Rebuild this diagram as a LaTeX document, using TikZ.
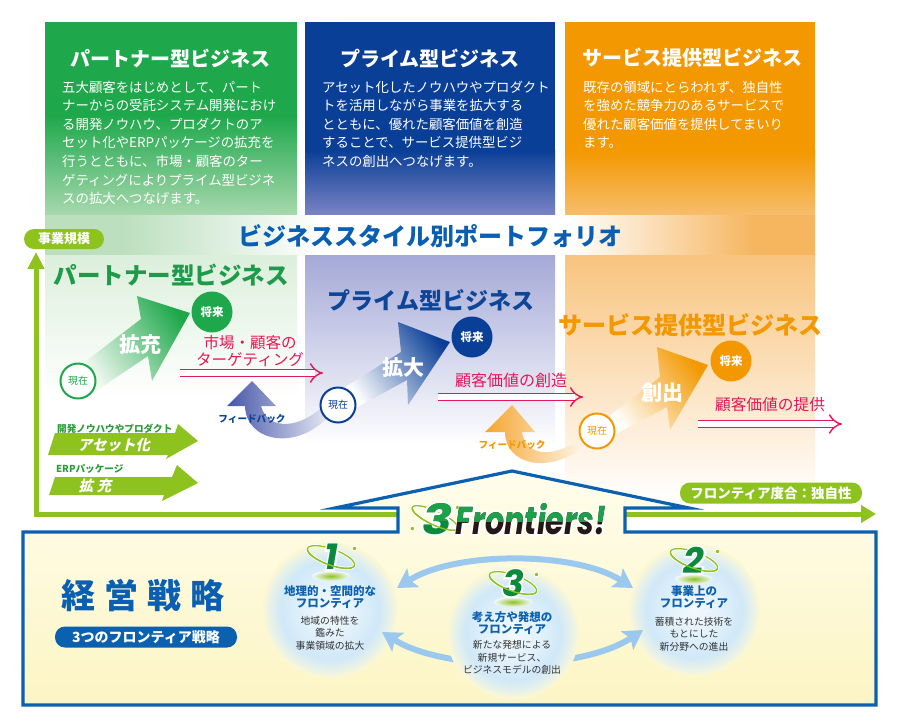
\documentclass[tikz,border=0pt]{standalone}
\usepackage{fontspec}
\usepackage{graphicx}
\setmainfont{Noto Sans CJK JP}
\newfontfamily\jpslant{Noto Sans CJK JP}[FakeSlant=0.22]
\newfontfamily\logofont{Poppins}
\newfontfamily\logofat{Poppins}[FakeBold=10]
\usetikzlibrary{arrows.meta,calc}
\XeTeXlinebreaklocale "ja"
\XeTeXlinebreakskip=0pt plus 6pt minus 1.5pt

\definecolor{cgreen}{HTML}{1EA84B}
\definecolor{cgreenpale}{HTML}{A9D9AF}
\definecolor{cgreenT}{HTML}{1E9B4A}
\definecolor{cblue}{HTML}{0A3F97}
\definecolor{cbluepale}{HTML}{7C85C5}
\definecolor{cblueT}{HTML}{0D4597}
\definecolor{corange}{HTML}{F39800}
\definecolor{corangepale}{HTML}{F7BE6E}
\definecolor{clime}{HTML}{8DC21F}
\definecolor{cpink}{HTML}{E4175A}
\definecolor{chouse}{HTML}{0B60B0}
\definecolor{cport}{HTML}{0B5FB2}
\definecolor{cbandG}{HTML}{BCDFBE}
\definecolor{cbandO}{HTML}{F6B660}
\definecolor{cpanelG}{HTML}{DCEFDB}
\definecolor{cpanelB}{HTML}{A4A9D7}
\definecolor{cpanelO}{HTML}{F8C47E}
\definecolor{cyelT}{HTML}{FFFDEC}
\definecolor{cyelB}{HTML}{FCF5C4}
\definecolor{cyelM}{HTML}{FDF8D3}
\definecolor{carc}{HTML}{9BC8EE}
\definecolor{cglow}{HTML}{D0E8F8}
\definecolor{cglowM}{HTML}{E2F1FB}
\definecolor{cglowC}{HTML}{F3F9FD}
\definecolor{cglowE}{HTML}{E6F1EA}
\definecolor{ctext}{HTML}{333333}
\definecolor{cdgreen}{HTML}{0B8A3E}
\definecolor{clabelG}{HTML}{2D9C3C}
\definecolor{cfbB}{HTML}{4656A8}
\definecolor{cfbO}{HTML}{F5A530}
\definecolor{clogoG}{HTML}{1E9F4A}
\definecolor{clogoK}{HTML}{231815}

\pgfdeclarehorizontalshading{bandshade}{100bp}{color(0bp)=(cbandG); color(25bp)=(cbandG); color(30bp)=(cbandG); color(43bp)=(white); color(59bp)=(white); color(71bp)=(cbandO); color(75bp)=(cbandO); color(100bp)=(cbandO)}
\pgfdeclareradialshading{glowshade}{\pgfpoint{0bp}{0bp}}{color(0bp)=(cglowC); color(10bp)=(cglowM); color(18bp)=(cglow); color(22bp)=(cglowE); color(25bp)=(cyelM); color(50bp)=(cyelM)}

\newcommand\orbitnum[4]{%
  \shade[inner color=clime, outer color=cglowC] (#2,#3+19) ellipse [x radius=19, y radius=5];
  \draw[white, line width=3pt, rotate around={-20:(#2,#3)}] (#2,#3) ellipse [x radius=25, y radius=8];
  \draw[clime, line width=1.3pt, rotate around={-20:(#2,#3)}] (#2,#3) ellipse [x radius=25, y radius=8];
  \node[numfat] at (#2,#3) {#4};
  \node[numstyle] (#1) at (#2,#3) {#4};
  \draw[clime, line width=1.3pt, rotate around={-20:(#2,#3)}] (#2+25,#3) arc[start angle=0, end angle=180, x radius=25, y radius=8];
  \fill[clime, draw=white, line width=0.8pt] ($(#2,#3)+(-20:25)$) circle (2.3);
}

\begin{document}
\begin{tikzpicture}[x=1pt,y=-1pt,
  coltitle/.style={text=white, inner sep=0pt, font=\bfseries\fontsize{20}{24}\selectfont},
  colbody/.style={text=white, anchor=west, inner sep=0pt, font=\fontsize{13.4}{16}\selectfont},
  midtitle/.style={inner sep=0pt, font=\bfseries\fontsize{23.5}{28}\selectfont},
  pinktext/.style={text=cpink, inner sep=0pt, font=\fontsize{15.5}{17}\selectfont},
  nowc/.style={circle, draw=#1, line width=2pt, fill=white, minimum size=35pt, inner sep=0pt, text=#1, font=\fontsize{10}{12}\selectfont},
  futc/.style={circle, fill=#1, minimum size=41pt, inner sep=0pt, text=white, font=\bfseries\fontsize{11.5}{13}\selectfont},
  bigtext/.style={text=white, inner sep=0pt, font=\bfseries\fontsize{21}{24}\selectfont},
  fbtext/.style={inner sep=0pt, font=\bfseries\fontsize{9.6}{11}\selectfont},
  pinkarrow/.style={draw=cpink, double=white, double distance=5.5pt, line width=1.4pt, -{Implies}},
  pill/.style={rounded corners=10pt, inner sep=0pt, text=white, font=\bfseries\fontsize{13.5}{14}\selectfont},
  greenarrow/.style={fill=clime},
  arrowtext/.style={text=white, inner sep=0pt, font=\jpslant\bfseries\fontsize{14.5}{16}\selectfont},
  arrowlabel/.style={text=clabelG, anchor=west, inner sep=0pt, font=\bfseries\fontsize{9.6}{11}\selectfont},
  arcarrow/.style={draw=carc, line width=6pt, {Stealth[length=19pt,width=22pt,inset=4pt]}-{Stealth[length=19pt,width=22pt,inset=4pt]}},
  numstyle/.style={inner sep=0pt, text=cdgreen, font=\logofont\bfseries\itshape\fontsize{36}{36}\selectfont},
  numfat/.style={inner sep=0pt, text=white, font=\logofat\bfseries\itshape\fontsize{36}{36}\selectfont},
  circtitle/.style={align=center, inner sep=0pt, text=chouse, font=\bfseries\fontsize{11.5}{11.8}\selectfont},
  circbody/.style={align=center, inner sep=0pt, text=ctext, font=\fontsize{9.8}{12.5}\selectfont},
  logotext/.style={inner sep=0pt, font=\logofont\bfseries\itshape},
  logofatstyle/.style={inner sep=0pt, text=white, font=\logofat\bfseries\itshape},
]
\useasboundingbox (0,0) rectangle (900,724);
\fill[white] (0,0) rectangle (900,724);

% ---------- top columns ----------
\fill[cgreen] (45,22) rectangle (297,115.5);
\shade[top color=cgreen, bottom color=cgreenpale] (45,115) rectangle (297,216);
\fill[cblue] (305,22) rectangle (555,150.5);
\shade[top color=cblue, bottom color=cbluepale] (305,150) rectangle (555,216);
\fill[corange] (565,22) rectangle (815,150.5);
\shade[top color=corange, bottom color=corangepale] (565,150) rectangle (815,216);

\node[coltitle] (t1) at (170,58) {パートナー型ビジネス};
\node[coltitle] (t2) at (430,58) {プライム型ビジネス};
\node[coltitle] (t3) at (692,58) {サービス提供型ビジネス};

\foreach \t [count=\i] in {五大顧客をはじめとして、パート,ナーからの受託システム開発におけ,る開発ノウハウ、プロダクトのア,セット化やERPパッケージの拡充を,行うとともに、市場・顧客のター,ゲティングによりプライム型ビジネ}
  \node[colbody] (gb\i) at (62,{87+18.6*(\i-1)}) {\hbox to 218pt{\t}};
\node[colbody] (gb7) at (62,{87+18.6*6}) {スの拡大へつなげます。};

\foreach \t [count=\i] in {アセット化したノウハウやプロダクト,トを活用しながら事業を拡大する,とともに、優れた顧客価値を創造,することで、サービス提供型ビジ}
  \node[colbody] (bb\i) at (322,{87+18.6*(\i-1)}) {\hbox to 218pt{\t}};
\node[colbody] (bb5) at (322,{87+18.6*4}) {ネスの創出へつなげます。};

\foreach \t [count=\i] in {既存の領域にとらわれず、独自性,を強めた競争力のあるサービスで,優れた顧客価値を提供してまいり}
  \node[colbody] (ob\i) at (583,{87+18.6*(\i-1)}) {\hbox to 220pt{\t}};
\node[colbody] (ob4) at (583,{87+18.6*3}) {ます。};

% ---------- band and panels ----------
\shade[shading=bandshade] (45,215) rectangle (815,255.5);
\shade[top color=cpanelG, middle color=cpanelG!80!white, bottom color=white] (45,255) rectangle (297,398);
\shade[top color=cpanelB, bottom color=white] (305,255) rectangle (555,445);
\shade[top color=cpanelO, bottom color=white] (565,255) rectangle (815,500);

\node[inner sep=0pt, text=cport, font=\bfseries\fontsize{24}{28}\selectfont] (port) at (430,236) {ビジネススタイル別ポートフォリオ};

\node[midtitle, text=cgreenT] (m1) at (171,275) {パートナー型ビジネス};
\node[midtitle, text=cblueT, font=\bfseries\fontsize{23}{28}\selectfont] (m2) at (431,300) {プライム型ビジネス};
\node[midtitle, text=corange, font=\bfseries\fontsize{24}{28}\selectfont] (m3) at (690,325) {サービス提供型ビジネス};

% ---------- axes ----------
\draw[clime, line width=5pt, -{Triangle[length=17pt,width=16pt]}] (398,514) -- (36,514) -- (36,252);
\draw[clime, line width=5pt, -{Triangle[length=15pt,width=17pt]}] (625,514) -- (876,514);
\node[pill, fill=clime, minimum width=80pt, minimum height=20pt, font=\bfseries\fontsize{13}{14}\selectfont] (scale) at (64,239) {事業規模};
\node[pill, fill=clime, minimum width=182pt, minimum height=21pt] (degree) at (771,493) {フロンティア度合：独自性};

% ---------- feedback arrows ----------
\shade[left color=cfbB, middle color=cfbB!70!white, right color=cfbB!12!white]
  (261,406) -- (276,406) -- (252,381) -- (227,406) -- (245,406)
  .. controls (246,442) and (297,452) .. (330,415) -- (324,405)
  .. controls (302,428) and (268,432) .. (261,406) -- cycle;
\shade[left color=cfbO, middle color=cfbO!75!white, right color=cfbO!10!white]
  (522,432) -- (535,432) -- (512,405) -- (485,432) -- (505,432)
  .. controls (505,465) and (550,475) .. (584,446) -- (582,438)
  .. controls (552,460) and (525,455) .. (522,432) -- cycle;
\node[fbtext, text=cblueT] (fb1) at (252,419) {フィードバック};
\node[fbtext, text=corange] (fb2) at (512,445) {フィードバック};

% ---------- big arrows ----------
\shade[bottom color=cpanelG!40!white, middle color=cgreen, top color=cgreen, shading angle=-56]
  (82,364) -- (141,319) -- (137,296) -- (190,313) -- (152,381) -- (148,356) -- (90,395) -- cycle;
\shade[bottom color=white, middle color=cblue, top color=cblue, shading angle=-54]
  (342,389) -- (401,352) -- (398,322) -- (450,342) -- (408,405) -- (407,380) -- (352,410) -- cycle;
\shade[bottom color=white, middle color=corange, top color=corange, shading angle=-53]
  (604,420) -- (660,377) -- (657,347) -- (708,365) -- (670,430) -- (667,407) -- (612,436) -- cycle;
\node[bigtext] (w1) at (140,345) {拡充};
\node[bigtext] (w2) at (403,367) {拡大};
\node[bigtext] (w3) at (662,393) {創出};

\node[nowc=cgreen] (now1) at (78,381) {現在};
\node[futc=cgreen] (fut1) at (212,312) {将来};
\node[nowc=cblue] (now2) at (338,405) {現在};
\node[futc=cblue] (fut2) at (472,337) {将来};
\node[nowc=corange] (now3) at (597,431) {現在};
\node[futc=corange] (fut3) at (731,361) {将来};

% ---------- pink texts and arrows ----------
\node[pinktext] (p1a) at (250,343) {市場・顧客の};
\node[pinktext] (p1b) at (250,360) {ターゲティング};
\node[pinktext, font=\fontsize{16}{18}\selectfont] (p2) at (511,380) {顧客価値の創造};
\node[pinktext, font=\fontsize{15.7}{18}\selectfont] (p3) at (770,405) {顧客価値の提供};
\coordinate (pa1s) at (180,373); \coordinate (pa1e) at (323,373);
\coordinate (pa2s) at (438,397); \coordinate (pa2e) at (583,397);
\coordinate (pa3s) at (698,424); \coordinate (pa3e) at (842,424);
\draw[pinkarrow] (pa1s) -- (pa1e);
\draw[pinkarrow] (pa2s) -- (pa2e);
\draw[pinkarrow] (pa3s) -- (pa3e);

% ---------- lower-left green arrows ----------
\fill[greenarrow] (55,433) -- (175,433) -- (178,424) -- (198,441) -- (166,459) -- (168,455) -- (48,455) -- cycle;
\fill[greenarrow] (55,477) -- (172,477) -- (177,465) -- (198,483) -- (162,501) -- (164,495) -- (49,495) -- cycle;
\node[arrowlabel] (lab1) at (57,429) {開発ノウハウやプロダクト};
\node[arrowlabel] (lab2) at (56,469) {ERPパッケージ};
\node[arrowtext] (asset) at (114,445) {アセット化};
\node[arrowtext] (expand) at (95,486) {拡\hspace{4pt}充};

% ---------- house ----------
\draw[draw=chouse, line width=3.2pt, top color=cyelT, bottom color=cyelB, line join=miter]
  (23,532) -- (398,532) -- (398,508) -- (335,508) -- (512,471) -- (689,508) -- (625,508)
  -- (625,532) -- (876,532) -- (876,705) -- (23,705) -- cycle;

% logo
\draw[white, line width=3pt, rotate around={-25:(435,518)}] (435,518) ellipse [x radius=25, y radius=7];
\draw[clime, line width=1.3pt, rotate around={-25:(435,518)}] (435,518) ellipse [x radius=25, y radius=7];
\node[logofatstyle] at (437,519) {\resizebox{30pt}{31pt}{3}};
\node[logotext, text=cdgreen] (logo3) at (437,519) {\resizebox{30pt}{31pt}{3}};
\begin{scope}
  \clip (400,490) rectangle (470,520);
  \node[logotext, text=clogoG] (logo3g) at (437,519) {\resizebox{30pt}{31pt}{3}};
\end{scope}
\draw[clime, line width=1.3pt, rotate around={-25:(435,518)}] (460,518) arc[start angle=0, end angle=180, x radius=25, y radius=7];
\fill[clime, draw=white, line width=0.8pt] ($(435,518)+(-25:25)$) circle (2.3);
\fill[clime, draw=white, line width=0.8pt] ($(435,518)+(155:25)$) circle (2.3);
\node[logofatstyle] at (531,519) {\resizebox{150pt}{31pt}{Frontiers!}};
\node[logotext, text=clogoK] (flogo) at (531,519) {\resizebox{150pt}{31pt}{Frontiers!}};
\begin{scope}
  \clip (440,490) rectangle (620,521);
  \node[logotext, text=clogoG] (flogog) at (531,519) {\resizebox{150pt}{31pt}{Frontiers!}};
\end{scope}

% ---------- bottom box ----------
\node[inner sep=0pt, text=cport, font=\bfseries\fontsize{34}{34}\selectfont] (keiei) at (143,596) {経\hspace{9pt}営\hspace{9pt}戦\hspace{9pt}略};
\node[pill, fill=chouse, minimum width=182pt, minimum height=21pt, font=\bfseries\fontsize{14}{14}\selectfont] (senryaku) at (146,637) {3つのフロンティア戦略};

\shade[shading=glowshade] (330,610) circle (68);
\shade[shading=glowshade] (694,610) circle (66);
\draw[arcarrow] (382,632) .. controls (445,672) and (580,672) .. (643,630);
\shade[shading=glowshade] (513,633) circle (66);
\draw[arcarrow] (397,588) .. controls (455,551) and (575,551) .. (633,588);

\orbitnum{n1}{331}{557}{1}
\orbitnum{n2}{694}{560}{2}
\orbitnum{n3}{513}{583}{3}

\node[circtitle] (c1t) at (330,597.5) {地理的・空間的な\\フロンティア};
\node[circbody] (c1b) at (330,633) {地域の特性を\\鑑みた\\事業領域の拡大};
\node[circtitle] (c2t) at (694,597.5) {事業上の\\フロンティア};
\node[circbody] (c2b) at (694,634) {蓄積された技術を\\もとにした\\新分野への進出};
\node[circtitle] (c3t) at (512,623) {考え方や発想の\\フロンティア};
\node[circbody] (c3b) at (512,657.5) {新たな発想による\\新規サービス、\\ビジネスモデルの創出};
\end{tikzpicture}
\end{document}
